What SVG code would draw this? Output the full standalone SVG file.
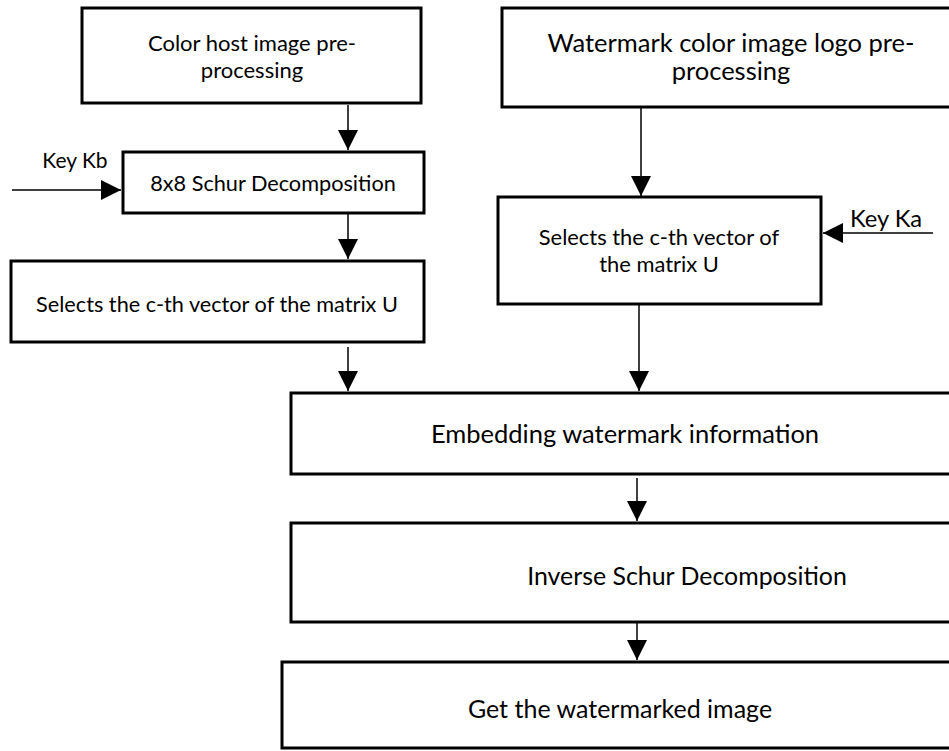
<svg xmlns="http://www.w3.org/2000/svg" width="949" height="751" viewBox="0 0 949 751">
<style>
.box{fill:#fff;stroke:#000;stroke-width:3}
.t{font-family:Lato,"Open Sans",sans-serif;fill:#000;text-anchor:middle}
.c{stroke:#000;stroke-width:1.5;fill:none;marker-end:url(#ah)}
</style>
<defs>
<marker id="ah" markerUnits="userSpaceOnUse" markerWidth="20" markerHeight="20" refX="19" refY="9.5" orient="auto" viewBox="0 0 19 19">
<path d="M0,0 L19,9.5 L0,19 z" fill="#000"/>
</marker>
</defs>
<rect width="949" height="751" fill="#fff"/>
<g id="n1"><rect class="box" x="82" y="8" width="339" height="95"/>
<text class="t" x="252" y="51" font-size="22">Color host image pre-</text>
<text class="t" x="252" y="78" font-size="22">processing</text></g>
<g id="n2"><rect class="box" x="123" y="152" width="301" height="61"/>
<text class="t" x="273" y="191" font-size="21.7">8x8 Schur Decomposition</text></g>
<g id="kb"><text class="t" x="75" y="168" font-size="21">Key Kb</text></g>
<g id="n3"><rect class="box" x="11" y="261" width="413" height="81"/>
<text class="t" x="217" y="312" font-size="21.7">Selects the c-th vector of the matrix U</text></g>
<g id="n4"><rect class="box" x="502" y="8" width="452" height="99"/>
<text class="t" x="731" y="52" font-size="25.5">Watermark color image logo pre-</text>
<text class="t" x="731" y="80" font-size="25.5">processing</text></g>
<g id="n5"><rect class="box" x="498" y="197" width="323" height="107"/>
<text class="t" x="659" y="245" font-size="21.9">Selects the c-th vector of</text>
<text class="t" x="659" y="272" font-size="21.9">the matrix U</text></g>
<g id="ka"><text class="t" x="886" y="227" font-size="23.7">Key Ka</text></g>
<g id="n6"><rect class="box" x="291" y="393" width="663" height="81"/>
<text class="t" x="625" y="443" font-size="25.5">Embedding watermark information</text></g>
<g id="n7"><rect class="box" x="291" y="523" width="663" height="99"/>
<text class="t" x="687" y="585" font-size="24.9">Inverse Schur Decomposition</text></g>
<g id="n8"><rect class="box" x="282" y="662" width="672" height="86"/>
<text class="t" x="620" y="718" font-size="25">Get the watermarked image</text></g>
<g id="connectors">
<line class="c" x1="348" y1="105" x2="348" y2="150"/>
<line class="c" x1="12" y1="190" x2="121" y2="190"/>
<line class="c" x1="348" y1="214" x2="348" y2="259"/>
<line class="c" x1="348" y1="347" x2="348" y2="391"/>
<line class="c" x1="641" y1="108" x2="641" y2="196"/>
<line class="c" x1="933" y1="233" x2="823" y2="233"/>
<line class="c" x1="639" y1="305" x2="639" y2="391"/>
<line class="c" x1="637" y1="478" x2="637" y2="521"/>
<line class="c" x1="637" y1="623" x2="637" y2="660"/>
</g>
</svg>
